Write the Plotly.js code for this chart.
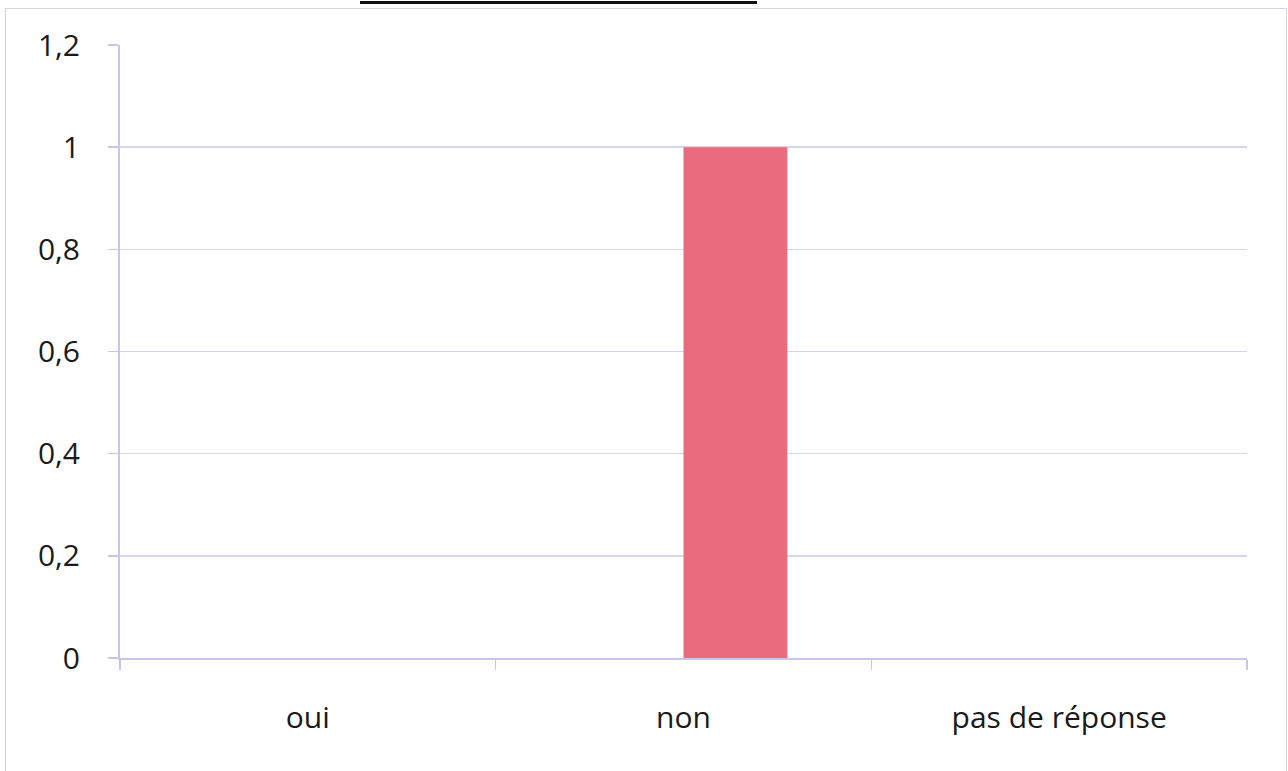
<!DOCTYPE html>
<html>
<head>
<meta charset="utf-8">
<script src="https://cdn.plot.ly/plotly-3.0.1.min.js"></script>
<style>
  html, body { margin: 0; padding: 0; background: #ffffff; }
  #chart { position: absolute; left: 0; top: 0; width: 1288px; height: 771px; }
  #frame { position: absolute; left: 5px; top: 8px; width: 1280px; height: 780px;
           border: 1.5px solid #d6cfe8; pointer-events: none; }
  #underline { position: absolute; left: 360px; top: 1px; width: 397px; height: 3px;
               background: #111111; pointer-events: none; }
</style>
</head>
<body>
<div id="chart"></div>
<div id="frame"></div>
<div id="underline"></div>
<script>
const categories = ["oui", "non", "pas de réponse"];
const series1 = [0, 0, 0];
const series2 = [0, 1, 0];
const yTickVals = [0, 0.2, 0.4, 0.6, 0.8, 1, 1.2];
const yTickText = ["0", "0,2", "0,4", "0,6", "0,8", "1", "1,2"];

const traces = [
  {
    type: "bar",
    x: categories,
    y: series1,
    marker: { color: "#4f81bd", line: { width: 0 } },
    hoverinfo: "skip"
  },
  {
    type: "bar",
    x: categories,
    y: series2,
    marker: { color: "#e96c7e", line: { width: 0 } },
    hoverinfo: "skip"
  }
];

const layout = {
  width: 1288,
  height: 771,
  margin: { l: 120, r: 41, t: 45, b: 113 },
  paper_bgcolor: "#ffffff",
  plot_bgcolor: "#ffffff",
  showlegend: false,
  barmode: "group",
  bargap: 0.447,
  bargroupgap: 0,
  font: { family: "Open Sans, sans-serif", size: 30, color: "#1a1a1a" },
  xaxis: {
    type: "category",
    showgrid: false,
    showline: true,
    linecolor: "#cbc4e6",
    linewidth: 2,
    ticks: "outside",
    tickson: "boundaries",
    ticklen: 10,
    tickcolor: "#cbc4e6",
    tickwidth: 1.5,
    ticklabelstandoff: 32,
    tickfont: { family: "Open Sans, sans-serif", size: 30, color: "#1a1a1a" },
    zeroline: false
  },
  yaxis: {
    range: [0, 1.2],
    tickvals: yTickVals,
    ticktext: yTickText,
    showgrid: true,
    gridcolor: "#d8d3ee",
    gridwidth: 1.5,
    showline: true,
    linecolor: "#cbc4e6",
    linewidth: 2,
    ticks: "outside",
    ticklen: 10,
    tickcolor: "#cbc4e6",
    tickwidth: 1.5,
    ticklabelstandoff: 22,
    tickfont: { family: "Open Sans, sans-serif", size: 30, color: "#1a1a1a" },
    zeroline: false
  }
};

Plotly.newPlot("chart", traces, layout, { displayModeBar: false, staticPlot: true });
</script>
</body>
</html>
